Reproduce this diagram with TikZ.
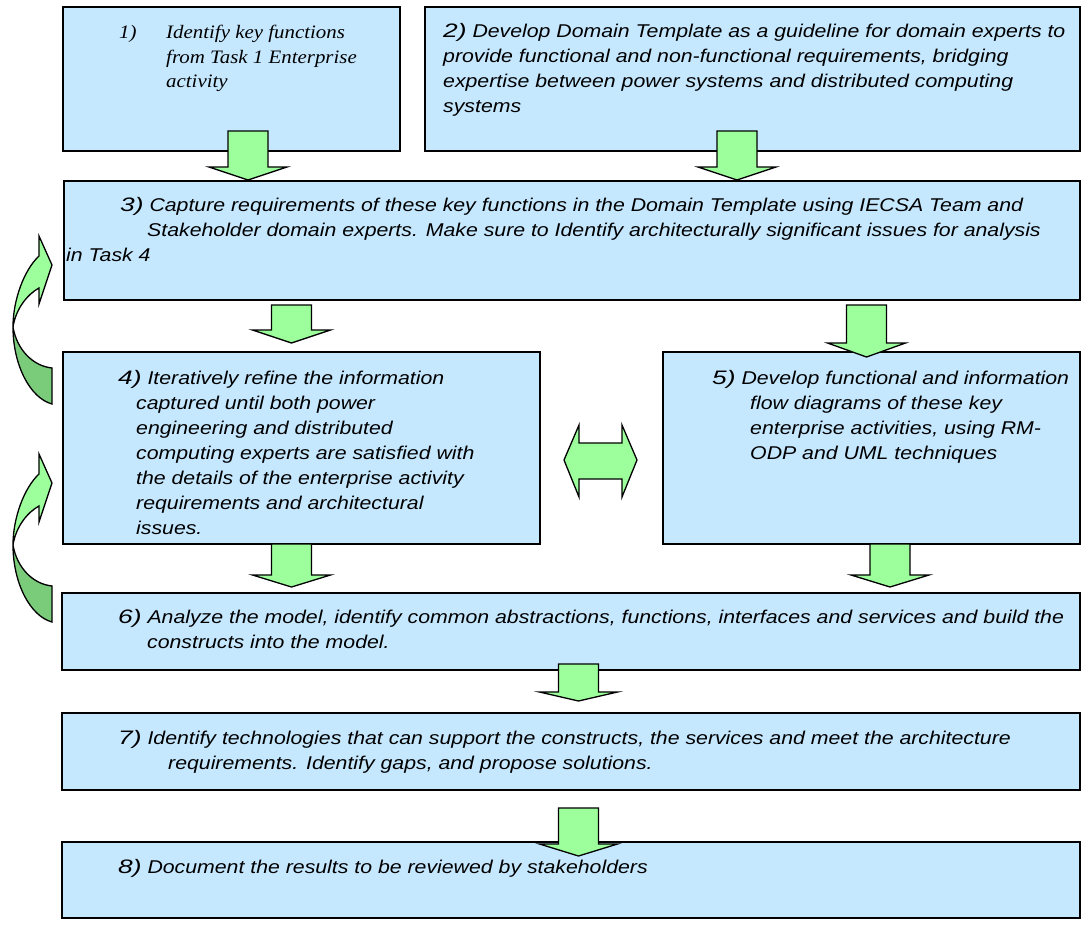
\documentclass[tikz,border=0pt]{standalone}
\usepackage{fontspec}
\setmainfont{Liberation Sans}[FakeStretch=1.15]
\newfontfamily\timesf{Liberation Serif}[FakeStretch=1.1]
\newfontfamily\numf{Liberation Sans}[FakeStretch=1.35]
\definecolor{boxblue}{HTML}{C6E8FF}
\definecolor{agreen}{HTML}{9CFF9C}
\definecolor{dgreen}{HTML}{7ACC7A}
\newcommand\nm[1]{{\numf\fontsize{19.5}{25}\selectfont #1}}
\newcommand\blockdown[4]{%
  \draw[barrow] ({#1-20},#2) -- ({#1+20},#2) -- ({#1+20},#3) -- ({#1+39},#3)
    -- (#1,#4) -- ({#1-39},#3) -- ({#1-20},#3) -- cycle;}
\newcommand\curvedarrow[1]{%
  \begin{scope}[shift={(0,#1)}]
    \draw[barrow, fill=dgreen] (13,327) .. controls (13,365) and (30,398) .. (52,404)
      -- (52,368) .. controls (33,366) and (17,350) .. cycle;
    \draw[barrow] (13,327) .. controls (13,300) and (24,270) .. (39,256)
      -- (39,236) -- (52,265) -- (39,304) -- (39,288)
      .. controls (28,294) and (16,308) .. cycle;
  \end{scope}}
\begin{document}
\begin{tikzpicture}[x=1pt,y=-1pt,
  box/.style={draw=black, line width=1.4pt, fill=boxblue, anchor=north west,
    inner sep=0pt, outer sep=0pt},
  barrow/.style={draw=black, line width=1.3pt, fill=agreen, line join=miter},
  txt/.style={anchor=north west, inner sep=0pt, align=left,
    font=\itshape\fontsize{18.5}{25}\selectfont},
  txtt/.style={anchor=north west, inner sep=0pt, align=left,
    font=\timesf\itshape\fontsize{19}{24.5}\selectfont}]
\useasboundingbox (0,0) rectangle (1087,927);
% boxes
\node[box, minimum width=337pt, minimum height=144pt] (b1) at (63,7) {};
\node[box, minimum width=655pt, minimum height=144pt] (b2) at (425,7) {};
\node[box, minimum width=1016pt, minimum height=119pt] (b3) at (64,181) {};
\node[box, minimum width=477pt, minimum height=192pt] (b4) at (63,352) {};
\node[box, minimum width=417pt, minimum height=192pt] (b5) at (663,352) {};
\node[box, minimum width=1018pt, minimum height=77pt] (b6) at (62,593) {};
\node[box, minimum width=1018pt, minimum height=77pt] (b7) at (62,713) {};
\node[box, minimum width=1018pt, minimum height=76pt] (b8) at (62,842) {};
% texts
\node[txtt] (t1) at (119,25) {\makebox[47pt][l]{1)}Identify key functions\\
  \hspace*{47pt}from Task 1 Enterprise\\ \hspace*{47pt}activity};
\node[txt] (t2) at (443,23) {\nm{2)} Develop Domain Template as a guideline for domain experts to\\
  provide functional and non-functional requirements, bridging\\
  expertise between power systems and distributed computing\\
  systems};
\node[txt] (t3) at (66,197) {\hspace*{54pt}\nm{3)} Capture requirements of these key functions in the Domain Template using IECSA Team and\\
  \hspace*{81pt}Stakeholder domain experts. Make sure to Identify architecturally significant issues for analysis\\
  in Task 4};
\node[txt] (t4) at (118,370) {\nm{4)} Iteratively refine the information\\
  \hspace*{18pt}captured until both power\\
  \hspace*{18pt}engineering and distributed\\
  \hspace*{18pt}computing experts are satisfied with\\
  \hspace*{18pt}the details of the enterprise activity\\
  \hspace*{18pt}requirements and architectural\\
  \hspace*{18pt}issues.};
\node[txt] (t5) at (712,370) {\nm{5)} Develop functional and information\\
  \hspace*{38pt}flow diagrams of these key\\
  \hspace*{38pt}enterprise activities, using RM-\\
  \hspace*{38pt}ODP and UML techniques};
\node[txt] (t6) at (118,609) {\nm{6)} Analyze the model, identify common abstractions, functions, interfaces and services and build the\\
  \hspace*{29pt}constructs into the model.};
\node[txt] (t7) at (118,730) {\nm{7)} Identify technologies that can support the constructs, the services and meet the architecture\\
  \hspace*{50pt}requirements. Identify gaps, and propose solutions.};
\node[txt] (t8) at (118,859) {\nm{8)} Document the results to be reviewed by stakeholders};
% block arrows
\blockdown{248}{131}{167}{180}
\blockdown{737}{131}{167}{180}
\blockdown{291.5}{305}{330}{343}
\blockdown{866.5}{305}{343}{357}
\blockdown{291.5}{544}{575}{587}
\blockdown{890}{544}{575}{587}
\blockdown{578.5}{664}{692}{701}
\blockdown{578.5}{808}{844}{856}
% double arrow
\draw[barrow] (564,460) -- (579,425) -- (579,443) -- (622,443) -- (622,425)
  -- (637,460) -- (622,497) -- (622,479) -- (579,479) -- (579,497) -- cycle;
% curved arrows
\curvedarrow{0}
\curvedarrow{218}
\end{tikzpicture}
\end{document}
